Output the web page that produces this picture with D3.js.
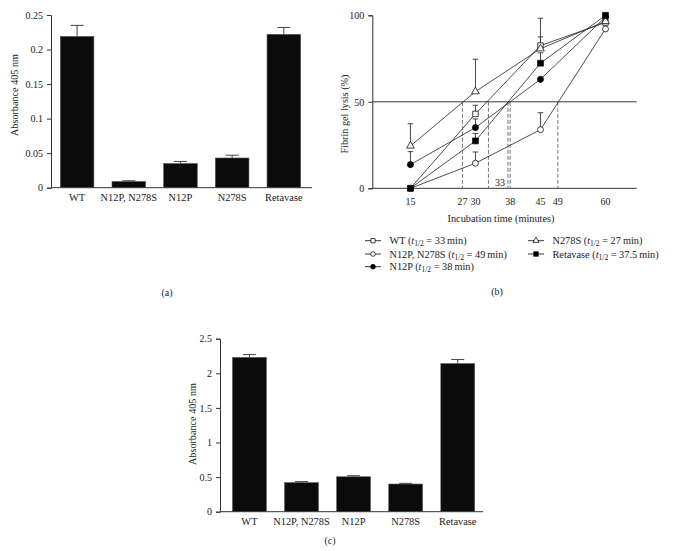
<!DOCTYPE html>
<html><head><meta charset="utf-8">
<script src="https://cdn.jsdelivr.net/npm/d3@7"></script>
<style>
body{margin:0;background:#fff;}
text{font-family:"Liberation Serif","Times New Roman",serif;fill:#222;}
</style></head>
<body><svg id="c" width="681" height="551"></svg>
<script>
// ---- Data ----
const categories = ["WT", "N12P, N278S", "N12P", "N278S", "Retavase"];
const absA = [0.219, 0.009, 0.035, 0.043, 0.222];
const errA = [0.016, 0.001, 0.003, 0.004, 0.010];
const ticksA = [0, 0.05, 0.1, 0.15, 0.2, 0.25];

const absC = [2.23, 0.42, 0.505, 0.40, 2.14];
const errC = [0.04, 0.015, 0.015, 0.01, 0.06];
const ticksC = [0, 0.5, 1, 1.5, 2, 2.5];

const times = [15, 30, 45, 60];
const seriesNames = ["WT", "N12P, N278S", "N12P", "N278S", "Retavase"];
const halfLives = [33, 49, 38, 27, 37.5];
const lysisWT = [0, 43, 82.5, 95.8];
const errWT = [0, 5, 5, 0];
const lysisN12PN278S = [0, 14.5, 33.9, 92.1];
const errN12PN278S = [0, 6.5, 9.8, 0];
const lysisN12P = [13.7, 35.1, 63, 99];
const errN12P = [7.5, 5, 0, 0];
const lysisN278S = [24.5, 55.9, 80.7, 96.5];
const errN278S = [12.8, 18.7, 17.6, 0];
const lysisRetavase = [0, 27.4, 72.3, 100];
const errRetavase = [0, 4.3, 6, 0];
const ticksBX = [15, 27, 30, 38, 45, 49, 60];
const ticksBY = [0, 50, 100];

const svg = d3.select("#c");
const AX = "#333";

// ---- Bar panel helper ----
function barPanel(vals, errs, ticks, yMax, x0, x1, yBottom, yTop, align, labelX, labelY, labelText) {
  const g = svg.append("g");
  const x = d3.scaleBand().domain(categories).range([x0, x1])
    .paddingInner(0.35).paddingOuter(0.2).align(align);
  const y = d3.scaleLinear().domain([0, yMax]).range([yBottom, yTop]);
  const yAxis = d3.axisLeft(y).tickValues(ticks).tickSize(4).tickPadding(4)
    .tickFormat(d => String(d));
  const ga = g.append("g").attr("transform", `translate(${x0},0)`).call(yAxis);
  ga.select(".domain").attr("stroke", AX);
  ga.selectAll(".tick line").attr("stroke", AX);
  ga.selectAll(".tick text").attr("font-size", 10).attr("font-family", "Liberation Serif").attr("fill", "#222");
  g.append("line").attr("x1", x0).attr("x2", x1).attr("y1", yBottom).attr("y2", yBottom).attr("stroke", AX);
  const bars = categories.map((c, i) => ({c, v: vals[i], e: errs[i]}));
  g.selectAll(".eb").data(bars).join("line")
    .attr("x1", d => x(d.c) + x.bandwidth()/2).attr("x2", d => x(d.c) + x.bandwidth()/2)
    .attr("y1", d => y(d.v)).attr("y2", d => y(d.v + d.e)).attr("stroke", "#444").attr("stroke-width", 1);
  g.selectAll(".cap").data(bars).join("line")
    .attr("x1", d => x(d.c) + x.bandwidth()/2 - 6.5).attr("x2", d => x(d.c) + x.bandwidth()/2 + 6.5)
    .attr("y1", d => y(d.v + d.e)).attr("y2", d => y(d.v + d.e)).attr("stroke", "#444").attr("stroke-width", 1);
  g.selectAll(".bar").data(bars).join("rect")
    .attr("x", d => x(d.c)).attr("width", x.bandwidth())
    .attr("y", d => y(d.v)).attr("height", d => yBottom - y(d.v))
    .attr("fill", "#0b0b0b").attr("stroke", "#555").attr("stroke-width", 0.6);
  g.selectAll(".xl").data(bars).join("text")
    .attr("x", d => x(d.c) + x.bandwidth()/2).attr("y", yBottom + 13.5)
    .attr("text-anchor", "middle").attr("font-size", 10.4).text(d => d.c);
  g.append("text").attr("transform", `translate(${labelX},${labelY}) rotate(-90)`)
    .attr("text-anchor", "middle").attr("font-size", 10.2).text(labelText);
}

barPanel(absA, errA, ticksA, 0.25, 51, 312, 187.7, 15, 0.45, 17.5, 95, "Absorbance 405 nm");
svg.append("text").attr("x", 167).attr("y", 296).attr("text-anchor", "middle").attr("font-size", 10).text("(a)");

barPanel(absC, errC, ticksC, 2.5, 220, 483, 511.7, 338.7, 0.6, 195.5, 424, "Absorbance 405 nm");
svg.append("text").attr("x", 330).attr("y", 544).attr("text-anchor", "middle").attr("font-size", 10).text("(c)");

// ---- Panel (b) ----
const gb = svg.append("g");
const xb = d3.scaleLinear().domain([6.2, 67.2]).range([372.3, 636.7]);
const yb = d3.scaleLinear().domain([0, 100]).range([188.3, 15.3]);
const yAxB = d3.axisLeft(yb).tickValues(ticksBY).tickSize(4).tickPadding(4);
const gya = gb.append("g").attr("transform", `translate(${xb(6.2)},0)`).call(yAxB);
gya.select(".domain").attr("stroke", AX);
gya.selectAll(".tick line").attr("stroke", AX);
gya.selectAll(".tick text").attr("font-size", 10).attr("font-family", "Liberation Serif").attr("fill", "#222");
gb.append("line").attr("x1", xb(6.2)).attr("x2", xb(67.2)).attr("y1", yb(0)).attr("y2", yb(0)).attr("stroke", AX);
gb.append("line").attr("x1", xb(6.2)).attr("x2", xb(67.2)).attr("y1", yb(50)).attr("y2", yb(50)).attr("stroke", "#222").attr("stroke-width", 0.9);
gb.selectAll(".bxt").data(ticksBX).join("text")
  .attr("x", d => xb(d)).attr("y", 205).attr("text-anchor", "middle").attr("font-size", 10).text(d => d);
gb.append("text").attr("x", 500).attr("y", 185.5).attr("text-anchor", "middle").attr("font-size", 10).text("33");
gb.append("text").attr("x", 501).attr("y", 221.5).attr("text-anchor", "middle").attr("font-size", 10.3).text("Incubation time (minutes)");
gb.append("text").attr("transform", `translate(348,114) rotate(-90)`)
  .attr("text-anchor", "middle").attr("font-size", 10.2).text("Fibrin gel lysis (%)");
gb.selectAll(".hl").data(halfLives).join("line")
  .attr("x1", d => xb(d)).attr("x2", d => xb(d)).attr("y1", yb(50)).attr("y2", yb(0))
  .attr("stroke", "#777").attr("stroke-width", 1).attr("stroke-dasharray", "4,2");

const series = [
  {name: "WT", hl: halfLives[0], vals: lysisWT, err: errWT, sym: d3.symbolSquare, fill: "#fff", size: 30},
  {name: "N12P, N278S", hl: halfLives[1], vals: lysisN12PN278S, err: errN12PN278S, sym: d3.symbolCircle, fill: "#fff", size: 28},
  {name: "N12P", hl: halfLives[2], vals: lysisN12P, err: errN12P, sym: d3.symbolCircle, fill: "#000", size: 30},
  {name: "N278S", hl: halfLives[3], vals: lysisN278S, err: errN278S, sym: d3.symbolTriangle, fill: "#fff", size: 26},
  {name: "Retavase", hl: halfLives[4], vals: lysisRetavase, err: errRetavase, sym: d3.symbolSquare, fill: "#000", size: 34}
];
const line = d3.line().x(d => xb(d[0])).y(d => yb(d[1]));
series.forEach(s => {
  const pts = times.map((t, i) => [t, s.vals[i], s.err[i]]);
  gb.append("path").attr("d", line(pts)).attr("fill", "none").attr("stroke", "#222").attr("stroke-width", 0.8);
  pts.filter(p => p[2] > 0).forEach(p => {
    gb.append("line").attr("x1", xb(p[0])).attr("x2", xb(p[0])).attr("y1", yb(p[1])).attr("y2", yb(p[1] + p[2])).attr("stroke", "#333").attr("stroke-width", 0.9);
    gb.append("line").attr("x1", xb(p[0]) - 2.8).attr("x2", xb(p[0]) + 2.8).attr("y1", yb(p[1] + p[2])).attr("y2", yb(p[1] + p[2])).attr("stroke", "#333").attr("stroke-width", 0.9);
  });
});
series.forEach(s => {
  const pts = times.map((t, i) => [t, s.vals[i]]);
  gb.selectAll(null).data(pts).join("path")
    .attr("d", d3.symbol().type(s.sym).size(s.size))
    .attr("transform", d => `translate(${xb(d[0])},${yb(d[1])})`)
    .attr("fill", s.fill).attr("stroke", "#111").attr("stroke-width", 0.8);
});

// legend
const legPos = [[373, 240.7], [373, 254], [373, 266.7], [536, 240.7], [536, 254]];
series.forEach((s, i) => {
  const [cx, cy] = legPos[i];
  const lg = gb.append("g");
  lg.append("line").attr("x1", cx - 8).attr("x2", cx + 8).attr("y1", cy).attr("y2", cy).attr("stroke", "#222").attr("stroke-width", 0.9);
  lg.append("path").attr("d", d3.symbol().type(s.sym).size(s.size * 0.6))
    .attr("transform", `translate(${cx},${cy})`).attr("fill", s.fill).attr("stroke", "#111").attr("stroke-width", 0.8);
  const t = lg.append("text").attr("x", cx + 16.5).attr("y", cy + 3.5).attr("font-size", 10.3);
  t.append("tspan").text(s.name + " (");
  t.append("tspan").attr("font-style", "italic").text("t");
  t.append("tspan").attr("font-size", 7.5).attr("dy", 2).text("1/2");
  t.append("tspan").attr("dy", -2).text(" = " + s.hl + "\u2009min)");
});
svg.append("text").attr("x", 497).attr("y", 295).attr("text-anchor", "middle").attr("font-size", 10).text("(b)");
</script></body></html>
